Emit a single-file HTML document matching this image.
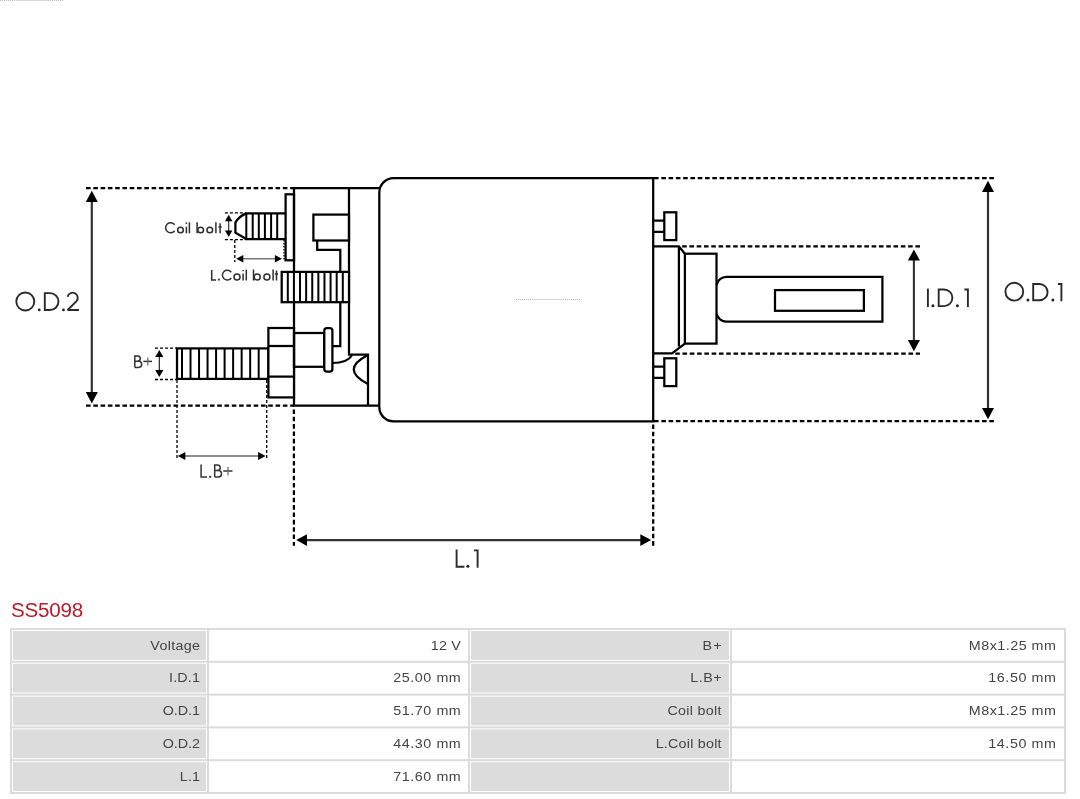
<!DOCTYPE html>
<html><head><meta charset="utf-8"><title>SS5098</title>
<style>
html,body{margin:0;padding:0;background:#fff;}
body{width:1080px;height:799px;position:relative;overflow:hidden;font-family:"Liberation Sans",sans-serif;}
#dia{position:absolute;left:0;top:0;width:1080px;height:799px;display:block;will-change:transform;}
text{font-family:"Liberation Sans",sans-serif;}
</style></head>
<body>
<svg id="dia" width="1080" height="799" viewBox="0 0 1080 799">
<g fill="none" stroke="#000" stroke-width="2.25" stroke-linejoin="miter" stroke-linecap="butt">
<path d="M653.2,178.2 H393.5 A14.2,14.3 0 0 0 379.3,192.5 V407 A14.2,14.3 0 0 0 393.5,421.3 H653.2 Z"/>
<path d="M379.3,188 H294 V405.6 H379.3"/>
<path d="M349,188 V354.7 H368 V405.6"/>
<path d="M368,355 Q339.5,369.5 368,384"/>
<rect x="285.6" y="194.3" width="8.4" height="66"/>
<path d="M285.4,213.4 H246.3 Q238.6,216.6 235.4,222.6 V232.6 L246.3,239 H285.4"/>
<g stroke-width="2"><line x1="246.30" y1="213.4" x2="246.30" y2="239"/><line x1="252.70" y1="213.4" x2="252.70" y2="239"/><line x1="258.80" y1="213.4" x2="258.80" y2="239"/><line x1="264.90" y1="213.4" x2="264.90" y2="239"/><line x1="271.10" y1="213.4" x2="271.10" y2="239"/><line x1="277.20" y1="213.4" x2="277.20" y2="239"/></g>
<rect x="313.4" y="214.6" width="35.6" height="25.9"/>
<path d="M317.2,240.5 V249.9 H340.3 V271.9"/>
<path d="M340.3,302.2 V346 H332.4"/>
<rect x="281.7" y="271.9" width="67.3" height="30.3" fill="#fff"/>
<g stroke-width="2"><line x1="287.81" y1="271.9" x2="287.81" y2="302.2"/><line x1="293.92" y1="271.9" x2="293.92" y2="302.2"/><line x1="300.03" y1="271.9" x2="300.03" y2="302.2"/><line x1="306.14" y1="271.9" x2="306.14" y2="302.2"/><line x1="312.25" y1="271.9" x2="312.25" y2="302.2"/><line x1="318.36" y1="271.9" x2="318.36" y2="302.2"/><line x1="324.47" y1="271.9" x2="324.47" y2="302.2"/><line x1="330.58" y1="271.9" x2="330.58" y2="302.2"/><line x1="336.69" y1="271.9" x2="336.69" y2="302.2"/><line x1="342.80" y1="271.9" x2="342.80" y2="302.2"/></g>
<rect x="177" y="348.4" width="91.4" height="30.5"/>
<g stroke-width="2"><line x1="182.00" y1="348.4" x2="182.00" y2="378.9"/><line x1="190.52" y1="348.4" x2="190.52" y2="378.9"/><line x1="199.04" y1="348.4" x2="199.04" y2="378.9"/><line x1="207.56" y1="348.4" x2="207.56" y2="378.9"/><line x1="216.08" y1="348.4" x2="216.08" y2="378.9"/><line x1="224.60" y1="348.4" x2="224.60" y2="378.9"/><line x1="233.12" y1="348.4" x2="233.12" y2="378.9"/><line x1="241.64" y1="348.4" x2="241.64" y2="378.9"/><line x1="250.16" y1="348.4" x2="250.16" y2="378.9"/><line x1="258.68" y1="348.4" x2="258.68" y2="378.9"/></g>
<rect x="268.4" y="328" width="25.6" height="69.4" fill="#fff"/>
<line x1="268.4" y1="346" x2="294" y2="346"/><line x1="268.4" y1="376.6" x2="294" y2="376.6"/>
<rect x="294" y="333" width="30.3" height="33.8"/>
<rect x="324.3" y="328.1" width="8.1" height="43.6" rx="2.6" ry="2.6" fill="#fff"/>
<path d="M332.4,363 Q347.5,362.8 352,355.2"/>
<path d="M653.2,220.6 H664.3 M653.2,231.79999999999998 H664.3"/>
<rect x="664.3" y="212.3" width="12" height="27.8"/>
<path d="M653.2,366.6 H664.3 M653.2,377.8 H664.3"/>
<rect x="664.3" y="358.3" width="12" height="27.8"/>
<path d="M653.2,246.4 H678.9 L684.9,253.7 M678.9,246.4 V346.5 M684.9,343.6 L672,353.4 H653.2"/>
<rect x="684.9" y="253.7" width="31.6" height="89.9"/>
<path d="M716.6,285 A10,10 0 0 1 726.5,276.8 H882.4 V321.7 H726.5 A10,10 0 0 1 716.6,313.5"/>
<rect x="775" y="290.1" width="88.9" height="20.7"/>
</g>
<g fill="none" stroke="#000" stroke-width="2.25" stroke-dasharray="4.6 2.69">
<line x1="86" y1="188.1" x2="294" y2="188.1"/>
<line x1="86" y1="405.7" x2="294" y2="405.7"/>
<line x1="654" y1="178.2" x2="994" y2="178.2"/>
<line x1="654" y1="421.2" x2="994" y2="421.2"/>
<line x1="682.1" y1="246.4" x2="920" y2="246.4"/>
<line x1="675.2" y1="353.5" x2="920" y2="353.5"/>
<line x1="293.9" y1="409.4" x2="293.9" y2="545.8" stroke-dasharray="4.6 2.76"/>
<line x1="653.2" y1="424.4" x2="653.2" y2="545.8"/>
</g>
<g fill="none" stroke="#000" stroke-width="1.3" stroke-dasharray="3 2">
<line x1="224.9" y1="212.8" x2="246" y2="212.8"/>
<line x1="224.9" y1="239.6" x2="246" y2="239.6"/>
<line x1="234.8" y1="240" x2="234.8" y2="262"/>
<line x1="284" y1="240" x2="284" y2="261" stroke-dasharray="1.5 1.5"/>
<line x1="155" y1="348.1" x2="177" y2="348.1"/>
<line x1="155" y1="379.5" x2="177" y2="379.5"/>
<line x1="177" y1="380" x2="177" y2="459"/>
<line x1="266.7" y1="380" x2="266.7" y2="459"/>
</g>
<line x1="91.8" y1="201.0" x2="91.8" y2="393.09999999999997" stroke="#333" stroke-width="2.2"/><polygon points="91.8,190.7 85.8,202.0 97.8,202.0" fill="#000"/><polygon points="91.8,403.4 85.8,392.09999999999997 97.8,392.09999999999997" fill="#000"/>
<line x1="988" y1="191.0" x2="988" y2="408.9" stroke="#333" stroke-width="2.2"/><polygon points="988,180.7 982.0,192.0 994.0,192.0" fill="#000"/><polygon points="988,419.2 982.0,407.9 994.0,407.9" fill="#000"/>
<line x1="913.9" y1="259.6" x2="913.9" y2="341.0" stroke="#333" stroke-width="2.1"/><polygon points="913.9,249.4 907.85,260.6 919.9499999999999,260.6" fill="#000"/><polygon points="913.9,351.2 907.85,340.0 919.9499999999999,340.0" fill="#000"/>
<line x1="306.0" y1="540.1" x2="641.3000000000001" y2="540.1" stroke="#333" stroke-width="2.2"/><polygon points="296.2,540.1 307.0,534.15 307.0,546.0500000000001" fill="#000"/><polygon points="651.1,540.1 640.3000000000001,534.15 640.3000000000001,546.0500000000001" fill="#000"/>
<line x1="228.7" y1="220.20000000000002" x2="228.7" y2="231.5" stroke="#222" stroke-width="1.1"/><polygon points="228.7,214.8 224.95,221.20000000000002 232.45,221.20000000000002" fill="#000"/><polygon points="228.7,236.9 224.95,230.5 232.45,230.5" fill="#000"/>
<line x1="159.3" y1="355.9" x2="159.3" y2="371.1" stroke="#222" stroke-width="1.2"/><polygon points="159.3,350 155.20000000000002,356.9 163.4,356.9" fill="#000"/><polygon points="159.3,377 155.20000000000002,370.1 163.4,370.1" fill="#000"/>
<line x1="242.29999999999998" y1="258.7" x2="275.9" y2="258.7" stroke="#777" stroke-width="1.4"/><polygon points="236.2,258.7 243.29999999999998,254.95 243.29999999999998,262.45" fill="#000"/><polygon points="282,258.7 274.9,254.95 274.9,262.45" fill="#000"/>
<line x1="184.3" y1="455.9" x2="259.1" y2="455.9" stroke="#666" stroke-width="1.5"/><polygon points="177.8,455.9 185.3,451.9 185.3,459.9" fill="#000"/><polygon points="265.6,455.9 258.1,451.9 258.1,459.9" fill="#000"/>
<g stroke="#b4b4b4" stroke-width="1" fill="none"><line x1="516" y1="299.5" x2="532" y2="299.5" stroke-dasharray="1 1"/><line x1="532" y1="299.5" x2="564" y2="299.5" stroke="#d4d4d4"/><line x1="565" y1="299.5" x2="581" y2="299.5" stroke-dasharray="1 1"/><line x1="0" y1="0.5" x2="16" y2="0.5" stroke-dasharray="1 1"/><line x1="16" y1="0.5" x2="48" y2="0.5" stroke="#d4d4d4"/><line x1="48" y1="0.5" x2="64" y2="0.5" stroke-dasharray="1 1"/></g>
<g fill="none" stroke="#2a2a2a" stroke-width="1.9" stroke-linecap="butt" stroke-linejoin="miter">
<circle cx="25.3" cy="301.5" r="9.0"/>
<circle cx="39.25" cy="309.95" r="1.40" fill="#222" stroke="none"/>
<path d="M44.8,293.1 H50.05000000000001 A8.449999999999989,8.449999999999989 0 0 1 50.05000000000001,310.0 H44.8 Z"/>
<circle cx="63.45" cy="309.95" r="1.40" fill="#222" stroke="none"/>
<path stroke-linejoin="bevel" d="M67.60,296.90 A5.1,5.1 0 1 1 76.31,301.31 L67.61,310.0 H79.0"/>
<path d="M927.9,288.6 V307"/>
<circle cx="932.95" cy="305.75" r="1.50" fill="#222" stroke="none"/>
<path d="M938.7,289.5 H944.0999999999999 A8.300000000000011,8.300000000000011 0 0 1 944.0999999999999,306.1 H938.7 Z"/>
<circle cx="957.35" cy="305.75" r="1.50" fill="#222" stroke="none"/>
<path d="M964.4,289.5 H967.9 V307"/>
<circle cx="1014.3" cy="291.7" r="8.9"/>
<circle cx="1027.95" cy="299.95" r="1.50" fill="#222" stroke="none"/>
<path d="M1033.2,284 H1039.4499999999998 A8.150000000000006,8.150000000000006 0 0 1 1039.4499999999998,300.3 H1033.2 Z"/>
<circle cx="1052.85" cy="299.95" r="1.50" fill="#222" stroke="none"/>
<path d="M1057.9,284 H1061.4 V301.2"/>
<path d="M456.6,549.4 V566.8 H464.4"/>
<circle cx="467.85" cy="566.35" r="1.50" fill="#222" stroke="none"/>
<path d="M474.0,550.4 H477.6 V567.8"/>
</g>
<g fill="none" stroke="#2e2e2e" stroke-width="1.5">
<path d="M174.65,224.81 A5.0,5.0 0 1 0 174.65,230.69"/>
<circle cx="180.5" cy="230.0" r="2.850000000000011"/>
<path d="M186.4,226.7 V233.3 M186.4,222.60000000000002 V224.0"/>
<path d="M189.4,222.3 V233.3"/>
<path d="M197.1,222.3 V233.3"/>
<circle cx="200.7" cy="230.0" r="2.850000000000011"/>
<circle cx="209.8" cy="230.0" r="2.850000000000011"/>
<path d="M215.9,222.3 V233.3"/>
<path d="M220.1,223.2 V233.3 M218.5,227.1 H221.7"/>
<path d="M211.7,270 V279.9 H216.1"/>
<rect x="217.9" y="278.6" width="1.9" height="1.9" fill="#333" stroke="none"/>
<path d="M231.26,272.22 A4.9,4.9 0 1 0 231.26,277.98"/>
<circle cx="237" cy="277.05" r="2.9999999999999885"/>
<path d="M243.1,273.6 V280.5 M243.1,269.90000000000003 V271.3"/>
<path d="M246.3,269.6 V280.5"/>
<path d="M253.5,269.6 V280.5"/>
<circle cx="257.2" cy="277.05" r="2.9999999999999885"/>
<circle cx="266.9" cy="277.05" r="2.9999999999999885"/>
<path d="M273.1,269.6 V280.5"/>
<path d="M276.5,270.4 V280.5 M274.9,274 H278.1"/>
</g>
<g fill="none" stroke="#333" stroke-width="1.5">
<path d="M134.8,367.4 V355.9 H137.85 A2.65,2.65 0 0 1 137.85,361.19 H134.8 M137.85,361.19 H138.59 A3.10,3.10 0 0 1 138.59,367.4 H134.8"/>
<path d="M143.3,361.4 H152"/><path d="M147.85,357.5 V365.5" stroke="#666" stroke-width="1.2"/>
<path d="M201.1,464.4 V477.1 H207"/>
<rect x="209.2" y="475.8" width="2" height="2" fill="#333" stroke="none"/>
<path d="M214.7,477.1 V465.1 H217.44 A2.76,2.76 0 0 1 217.44,470.62 H214.7 M217.44,470.62 H218.26 A3.24,3.24 0 0 1 218.26,477.1 H214.7"/>
<path d="M223.3,471 H232.5"/><path d="M228,467 V475.5" stroke="#666" stroke-width="1.2"/>
</g>
<rect x="10" y="628.0" width="1056" height="166.00" fill="#dbdbdb"/>
<g font-family="Liberation Sans, sans-serif" font-size="13.5" fill="#444" text-anchor="end">
<rect x="12" y="630.00" width="195" height="30.80" fill="#fff"/>
<rect x="13" y="631.00" width="193" height="28.80" fill="#dcdcdc"/>
<text transform="translate(200.21,649.60) scale(1.06,1)" letter-spacing="0.289">Voltage</text>
<rect x="209" y="630.00" width="259" height="30.80" fill="#fff"/>
<text transform="translate(461.00,649.60) scale(1.06,1)" letter-spacing="0.192">12 V</text>
<rect x="470" y="630.00" width="260" height="30.80" fill="#fff"/>
<rect x="471" y="631.00" width="258" height="28.80" fill="#dcdcdc"/>
<text transform="translate(722.78,649.60) scale(1.06,1)" letter-spacing="1.116">B+</text>
<rect x="732" y="630.00" width="332" height="30.80" fill="#fff"/>
<text transform="translate(1056.39,649.60) scale(1.06,1)" letter-spacing="0.458">M8x1.25 mm</text>
<rect x="12" y="662.80" width="195" height="30.80" fill="#fff"/>
<rect x="13" y="663.80" width="193" height="28.80" fill="#dcdcdc"/>
<text transform="translate(200.07,682.40) scale(1.06,1)" letter-spacing="0.162">I.D.1</text>
<rect x="209" y="662.80" width="259" height="30.80" fill="#fff"/>
<text transform="translate(461.37,682.40) scale(1.06,1)" letter-spacing="0.541">25.00 mm</text>
<rect x="470" y="662.80" width="260" height="30.80" fill="#fff"/>
<rect x="471" y="663.80" width="258" height="28.80" fill="#dcdcdc"/>
<text transform="translate(722.12,682.40) scale(1.06,1)" letter-spacing="0.488">L.B+</text>
<rect x="732" y="662.80" width="332" height="30.80" fill="#fff"/>
<text transform="translate(1056.47,682.40) scale(1.06,1)" letter-spacing="0.541">16.50 mm</text>
<rect x="12" y="695.60" width="195" height="30.80" fill="#fff"/>
<rect x="13" y="696.60" width="193" height="28.80" fill="#dcdcdc"/>
<text transform="translate(199.84,715.20) scale(1.06,1)" letter-spacing="-0.054">O.D.1</text>
<rect x="209" y="695.60" width="259" height="30.80" fill="#fff"/>
<text transform="translate(461.37,715.20) scale(1.06,1)" letter-spacing="0.541">51.70 mm</text>
<rect x="470" y="695.60" width="260" height="30.80" fill="#fff"/>
<rect x="471" y="696.60" width="258" height="28.80" fill="#dcdcdc"/>
<text transform="translate(721.91,715.20) scale(1.06,1)" letter-spacing="0.297">Coil bolt</text>
<rect x="732" y="695.60" width="332" height="30.80" fill="#fff"/>
<text transform="translate(1056.39,715.20) scale(1.06,1)" letter-spacing="0.458">M8x1.25 mm</text>
<rect x="12" y="728.40" width="195" height="30.80" fill="#fff"/>
<rect x="13" y="729.40" width="193" height="28.80" fill="#dcdcdc"/>
<text transform="translate(199.84,748.00) scale(1.06,1)" letter-spacing="-0.054">O.D.2</text>
<rect x="209" y="728.40" width="259" height="30.80" fill="#fff"/>
<text transform="translate(461.37,748.00) scale(1.06,1)" letter-spacing="0.541">44.30 mm</text>
<rect x="470" y="728.40" width="260" height="30.80" fill="#fff"/>
<rect x="471" y="729.40" width="258" height="28.80" fill="#dcdcdc"/>
<text transform="translate(721.83,748.00) scale(1.06,1)" letter-spacing="0.217">L.Coil bolt</text>
<rect x="732" y="728.40" width="332" height="30.80" fill="#fff"/>
<text transform="translate(1056.47,748.00) scale(1.06,1)" letter-spacing="0.541">14.50 mm</text>
<rect x="12" y="761.20" width="195" height="30.80" fill="#fff"/>
<rect x="13" y="762.20" width="193" height="28.80" fill="#dcdcdc"/>
<text transform="translate(199.97,780.80) scale(1.06,1)" letter-spacing="0.065">L.1</text>
<rect x="209" y="761.20" width="259" height="30.80" fill="#fff"/>
<text transform="translate(461.37,780.80) scale(1.06,1)" letter-spacing="0.541">71.60 mm</text>
<rect x="470" y="761.20" width="260" height="30.80" fill="#fff"/>
<rect x="471" y="762.20" width="258" height="28.80" fill="#dcdcdc"/>
<rect x="732" y="761.20" width="332" height="30.80" fill="#fff"/>
</g>
<text transform="translate(11.0,617.2) scale(1.03,1)" font-family="Liberation Sans, sans-serif" font-size="20" letter-spacing="-0.196" fill="#b81c2a">SS5098</text>
</svg>
</body></html>
